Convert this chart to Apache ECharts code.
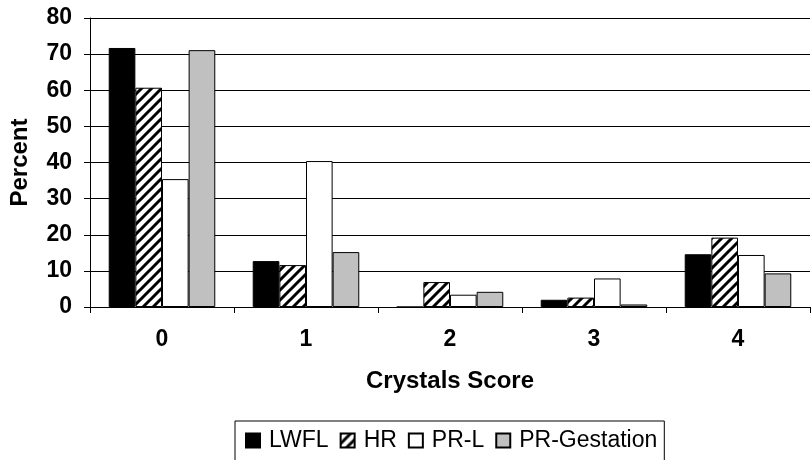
<!DOCTYPE html>
<html><head><meta charset="utf-8">
<script src="https://cdn.jsdelivr.net/npm/echarts@6/dist/echarts.min.js"></script>
<style>html,body{margin:0;padding:0;background:#fff}#c{width:811px;height:460px}</style>
</head><body><div id="c"></div>
<script>
const categories = ['0', '1', '2', '3', '4'];
const seriesNames = ['LWFL', 'HR', 'PR-L', 'PR-Gestation'];
const lwfl = [71.7, 12.7, 0, 2.0, 14.6];
const hr = [60.7, 11.6, 6.9, 2.6, 19.2];
const prL = [35.4, 40.4, 3.4, 7.9, 14.4];
const prGestation = [71.1, 15.2, 4.2, 0.7, 9.3];
const yTicks = { min: 0, max: 80, interval: 10 };

function hatch() {
  const s = 10;
  const c = document.createElement('canvas');
  c.width = s; c.height = s;
  const g = c.getContext('2d');
  g.fillStyle = '#fff'; g.fillRect(0, 0, s, s);
  g.strokeStyle = '#000'; g.lineWidth = 3;
  g.beginPath();
  g.moveTo(-2, s + 2); g.lineTo(s + 2, -2);
  g.moveTo(-s - 2, s + 2); g.lineTo(2, -2);
  g.moveTo(-2, 2 * s + 2); g.lineTo(2 * s + 2, -2);
  g.stroke();
  return { image: c, repeat: 'repeat' };
}
const fills = ['#000000', hatch(), '#ffffff', '#c0c0c0'];
const values = [lwfl, hr, prL, prGestation];
const font = 'Liberation Sans, Arial, sans-serif';

const chart = echarts.init(document.getElementById('c'), null, { renderer: 'canvas' });
chart.setOption({
  animation: false,
  backgroundColor: '#fff',
  grid: { left: 90, right: 1, top: 18, bottom: 153 },
  legend: {
    left: 235, top: 421,
    data: seriesNames,
    icon: 'rect',
    borderColor: '#000', borderWidth: 1, padding: [8, 7, 14, 10],
    itemWidth: 14, itemHeight: 14, itemGap: 11,
    textStyle: { fontFamily: font, fontSize: 23, color: '#000', padding: [0, 0, 0, 4] }
  },
  xAxis: {
    type: 'category', data: categories,
    name: 'Crystals Score', nameLocation: 'middle', nameGap: 62,
    nameTextStyle: { fontFamily: font, fontSize: 24, fontWeight: 'bold', color: '#000' },
    axisLine: { lineStyle: { color: '#000', width: 1 } },
    axisTick: { show: true, length: 6, lineStyle: { color: '#000' } },
    axisLabel: { fontFamily: font, fontSize: 23, fontWeight: 'bold', color: '#000', margin: 21 }
  },
  yAxis: {
    type: 'value', min: yTicks.min, max: yTicks.max, interval: yTicks.interval,
    name: 'Percent', nameLocation: 'middle', nameGap: 58,
    nameTextStyle: { fontFamily: font, fontSize: 24, fontWeight: 'bold', color: '#000' },
    axisLine: { show: true, lineStyle: { color: '#000', width: 1 } },
    axisTick: { show: true, length: 6, lineStyle: { color: '#000' } },
    splitLine: { lineStyle: { color: '#000', width: 1 } },
    axisLabel: { fontFamily: font, fontSize: 23, fontWeight: 'bold', color: '#000', margin: 18 }
  },
  series: seriesNames.map((n, i) => ({
    name: n, type: 'bar', data: values[i],
    barGap: '0%', barCategoryGap: '26%',
    itemStyle: { color: fills[i], borderColor: '#000', borderWidth: 1 }
  }))
});
</script></body></html>
